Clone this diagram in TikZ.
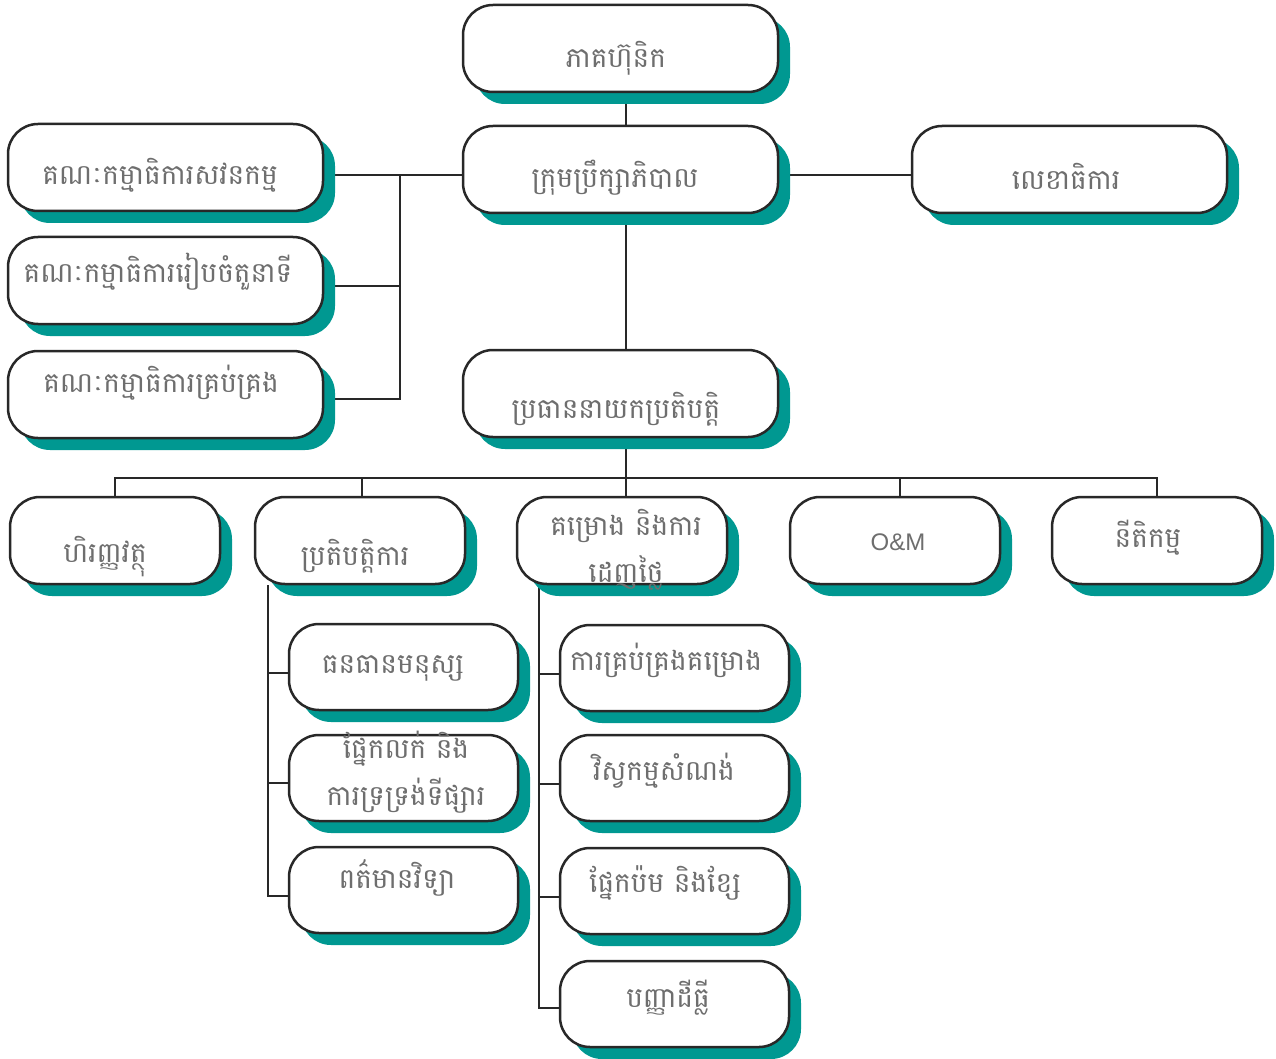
\documentclass[tikz,border=0pt]{standalone}
\usepackage{fontspec}
\newfontfamily\khmer[Script=Khmer]{Battambang}
\setsansfont{Liberation Sans}
\usetikzlibrary{backgrounds}
\definecolor{tealsh}{RGB}{0,152,145}
\definecolor{edgec}{RGB}{40,40,40}
\definecolor{txtc}{RGB}{110,110,110}
\tikzset{
  box/.style={draw=edgec, line width=2.5pt, fill=white, rounded corners=30pt, inner sep=0pt},
  shad/.style={fill=tealsh, rounded corners=30pt, inner sep=0pt},
  lbl/.style={text=txtc, anchor=base, inner sep=0pt, font=\khmer\fontsize{28}{47}\selectfont, align=center},
  conn/.style={draw=edgec, line width=1.6pt},
}
\newcommand\orgbox[5]{%
  \node[shad, minimum width=#4, minimum height=#5, xshift=12pt, yshift=-12pt] (#1s) at (#2,#3) {};
  \node[box, minimum width=#4, minimum height=#5] (#1) at (#2,#3) {};}
\begin{document}
\begin{tikzpicture}[x=1pt,y=-1pt]
\useasboundingbox (0,0) rectangle (1276,1059);
% boxes
\orgbox{top}{620.5}{48.5}{315}{87}
\orgbox{board}{620.5}{169.5}{315}{87}
\orgbox{sec}{1069.5}{169.5}{315}{87}
\orgbox{ca}{165.5}{167.5}{315}{87}
\orgbox{cb}{165.5}{280.5}{315}{87}
\orgbox{cc}{165.5}{394.5}{315}{87}
\orgbox{ceo}{620.5}{393.5}{315}{87}
\orgbox{ra}{115}{540.5}{210}{87}
\orgbox{rb}{360}{540.5}{210}{87}
\orgbox{rc}{622}{540.5}{210}{87}
\orgbox{rd}{895}{540.5}{210}{87}
\orgbox{re}{1157}{540.5}{210}{87}
\orgbox{pa}{403.5}{667}{229}{86}
\orgbox{pb}{403.5}{778}{229}{86}
\orgbox{pc}{403.5}{890}{229}{86}
\orgbox{ga}{674.5}{668}{229}{86}
\orgbox{gb}{674.5}{778}{229}{86}
\orgbox{gc}{674.5}{891}{229}{86}
\orgbox{gd}{674.5}{1004}{229}{86}
% labels
\node[lbl] (ttop) at (616,68) {ភាគហ៊ុនិក};
\node[lbl] (tboard) at (615,188) {ក្រុមប្រឹក្សាភិបាល};
\node[lbl] (tsec) at (1066,190) {លេខាធិការ};
\node[lbl] (tca) at (160,185) {គណៈកម្មាធិការសវនកម្ម};
\node[lbl] (tcb) at (158,282) {គណៈកម្មាធិការរៀបចំតួនាទី};
\node[lbl] (tcc) at (161,392) {គណៈកម្មាធិការគ្រប់គ្រង};
\node[lbl] (tceo) at (616,418) {ប្រធាននាយកប្រតិបត្តិ};
\node[lbl] (tra) at (105,562) {ហិរញ្ញវត្ថុ};
\node[lbl] (trb) at (355,565) {ប្រតិបត្តិការ};
\node[lbl] (trc) at (626,582) {គម្រោង និងការ\\ដេញថ្លៃ};
\node[lbl, font=\sffamily\fontsize{24}{30}\selectfont] (trd) at (898,550) {O\&M};
\node[lbl] (tre) at (1148,547) {នីតិកម្ម};
\node[lbl] (tpa) at (393,673) {ធនធានមនុស្ស};
\node[lbl] (tpb) at (406,805) {ផ្នែកលក់ និង\\ការទ្រទ្រង់ទីផ្សារ};
\node[lbl] (tpc) at (397,888) {ពត៌មានវិទ្យា};
\node[lbl] (tga) at (666,670) {ការគ្រប់គ្រងគម្រោង};
\node[lbl] (tgb) at (664,780) {វិស្វកម្មសំណង់};
\node[lbl] (tgc) at (665,892) {ផ្នែកប៉ម និងខ្សែ};
\node[lbl] (tgd) at (668,1007) {បញ្ញាដីធ្លី};
% connectors
\coordinate (trunk) at (626,0);
\coordinate (cj1) at (400,175);
\coordinate (cj2) at (400,286);
\coordinate (cj3) at (400,399);
\coordinate (rowbus) at (626,478);
\coordinate (pv) at (268,0);
\coordinate (gv) at (539,0);
\coordinate (pj1) at (0,673);
\coordinate (pj2) at (0,783);
\coordinate (pj3) at (0,896);
\coordinate (gj1) at (0,674);
\coordinate (gj2) at (0,784);
\coordinate (gj3) at (0,897);
\coordinate (gj4) at (0,1008);
\begin{scope}[on background layer]
\draw[conn] (top.south -| trunk) -- (board.north -| trunk);
\draw[conn] (board.south -| trunk) -- (ceo.north -| trunk);
\draw[conn] (board.east |- cj1) -- (sec.west |- cj1);
\draw[conn] (board.west |- cj1) -- (cj1) -- (cj3) -- (cc.east |- cj3);
\draw[conn] (ca.east |- cj1) -- (cj1);
\draw[conn] (cb.east |- cj2) -- (cj2);
\draw[conn] (ceo.south -| trunk) -- (rowbus);
\draw[conn] (ra.north) -- (ra.north |- rowbus) -- (re.north |- rowbus) -- (re.north);
\draw[conn] ([xshift=2pt]rb.north) -- ([xshift=2pt]rb.north |- rowbus);
\draw[conn] (rc.north -| trunk) -- (rowbus);
\draw[conn] ([xshift=5pt]rd.north) -- ([xshift=5pt]rd.north |- rowbus);
\draw[conn] (rb.south -| pv) -- (pv |- pj3) -- (pc.west |- pj3);
\draw[conn] (pv |- pj1) -- (pa.west |- pj1);
\draw[conn] (pv |- pj2) -- (pb.west |- pj2);
\draw[conn] (rc.south -| gv) -- (gv |- gj4) -- (gd.west |- gj4);
\draw[conn] (gv |- gj1) -- (ga.west |- gj1);
\draw[conn] (gv |- gj2) -- (gb.west |- gj2);
\draw[conn] (gv |- gj3) -- (gc.west |- gj3);
\end{scope}
\end{tikzpicture}
\end{document}
